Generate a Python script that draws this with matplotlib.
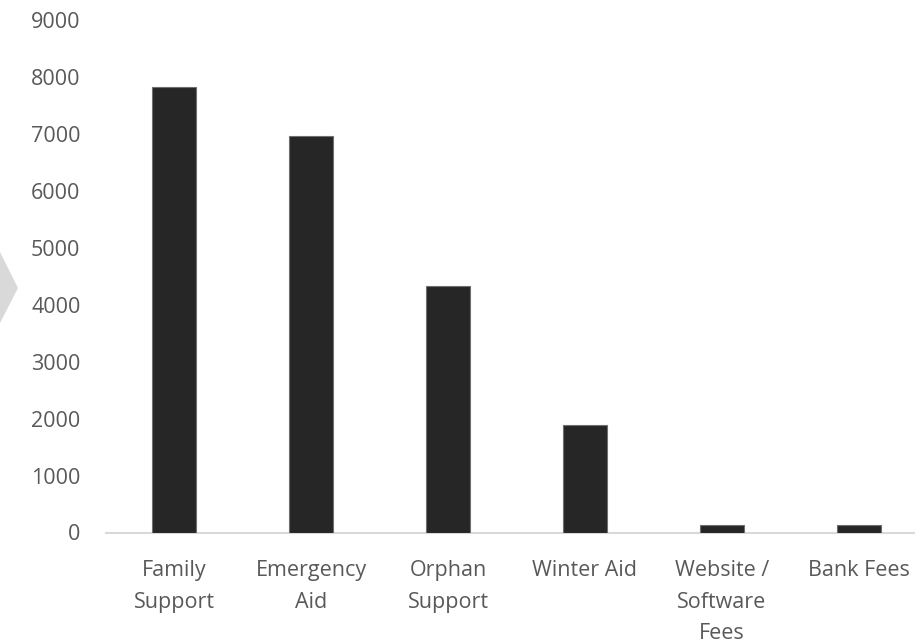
import matplotlib.pyplot as plt
from matplotlib.patches import Polygon

plt.rcParams['font.family'] = ['Open Sans', 'DejaVu Sans']

categories = ["Family\nSupport", "Emergency\nAid", "Orphan\nSupport", "Winter Aid",
              "Website /\nSoftware\nFees", "Bank Fees"]
amounts = [7830, 6960, 4330, 1890, 130, 130]
yticks = [0, 1000, 2000, 3000, 4000, 5000, 6000, 7000, 8000, 9000]

text_color = '#595959'

fig = plt.figure(figsize=(9.15, 6.43), dpi=100)
ax = fig.add_axes([105.5 / 915, 110.5 / 643, 822 / 915, 512.5 / 643])

x = range(len(categories))
ax.bar(x, amounts, width=0.32, color='#262626', edgecolor='#6f6f6f', linewidth=0.8, zorder=3)

ax.set_xlim(-0.5, len(categories) - 0.5)
ax.set_ylim(0, 9000)
ax.set_yticks(yticks)
ax.set_yticklabels([str(v) for v in yticks])
ax.set_xticks(list(x))
ax.set_xticklabels(categories, linespacing=1.64)

ax.tick_params(axis='y', length=0, pad=18, labelsize=15.5, labelcolor=text_color)
ax.tick_params(axis='x', length=0, pad=20, labelsize=15.5, labelcolor=text_color)

for side in ['top', 'right', 'left']:
    ax.spines[side].set_visible(False)
ax.spines['bottom'].set_color('#d9d9d9')
ax.spines['bottom'].set_linewidth(1.5)

# grey chevron on the left edge
arrow = Polygon([[0, (643 - 252) / 643], [18 / 915, (643 - 288) / 643], [0, (643 - 323) / 643]],
                closed=True, transform=fig.transFigure, facecolor='#d9d9d9', edgecolor='none')
fig.patches.append(arrow)

fig.savefig('out.png', dpi=100)
